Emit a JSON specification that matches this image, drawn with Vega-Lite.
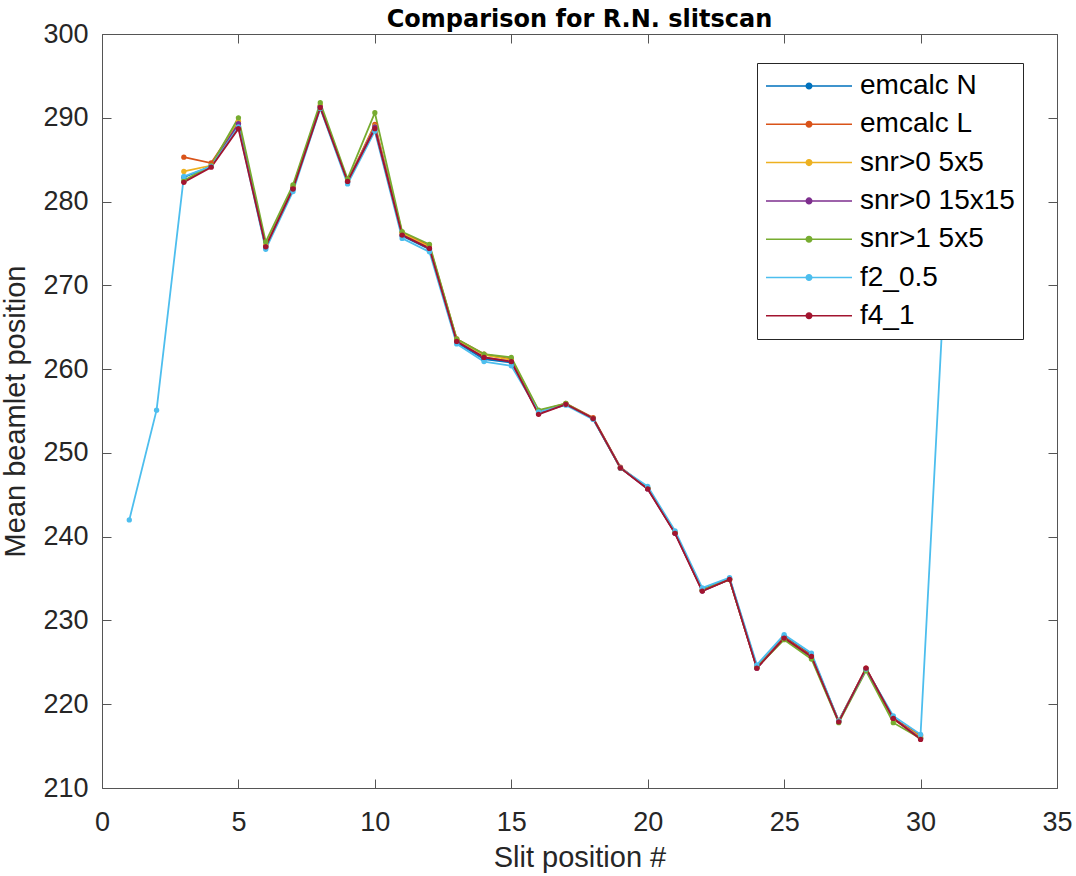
{
  "$schema": "https://vega.github.io/schema/vega-lite/v6.json",
  "width": 955,
  "height": 754,
  "autosize": "none",
  "padding": {"left": 102, "top": 34, "right": 19, "bottom": 88},
  "background": "white",
  "config": {
    "view": {"stroke": null},
    "font": "Liberation Sans"
  },
  "title": {
    "text": "Comparison for R.N. slitscan",
    "fontSize": 24,
    "fontWeight": "bold",
    "font": "DejaVu Sans",
    "color": "#000000",
    "anchor": "middle",
    "baseline": "alphabetic",
    "offset": 1,
    "dy": 32
  },
  "data": {
    "values": [
      {"x": 3, "series": "emcalc N", "y": 282.9},
      {"x": 4, "series": "emcalc N", "y": 284.2},
      {"x": 5, "series": "emcalc N", "y": 289.3},
      {"x": 6, "series": "emcalc N", "y": 274.5},
      {"x": 7, "series": "emcalc N", "y": 281.5},
      {"x": 8, "series": "emcalc N", "y": 291.3},
      {"x": 9, "series": "emcalc N", "y": 282.3},
      {"x": 10, "series": "emcalc N", "y": 288.6},
      {"x": 11, "series": "emcalc N", "y": 275.9},
      {"x": 12, "series": "emcalc N", "y": 274.3},
      {"x": 13, "series": "emcalc N", "y": 263.2},
      {"x": 14, "series": "emcalc N", "y": 261.2},
      {"x": 15, "series": "emcalc N", "y": 260.8},
      {"x": 16, "series": "emcalc N", "y": 254.8},
      {"x": 17, "series": "emcalc N", "y": 255.8},
      {"x": 18, "series": "emcalc N", "y": 254.1},
      {"x": 19, "series": "emcalc N", "y": 248.2},
      {"x": 20, "series": "emcalc N", "y": 245.8},
      {"x": 21, "series": "emcalc N", "y": 240.5},
      {"x": 22, "series": "emcalc N", "y": 233.7},
      {"x": 23, "series": "emcalc N", "y": 235.0},
      {"x": 24, "series": "emcalc N", "y": 224.5},
      {"x": 25, "series": "emcalc N", "y": 228.1},
      {"x": 26, "series": "emcalc N", "y": 225.9},
      {"x": 27, "series": "emcalc N", "y": 218.0},
      {"x": 28, "series": "emcalc N", "y": 224.2},
      {"x": 29, "series": "emcalc N", "y": 218.4},
      {"x": 30, "series": "emcalc N", "y": 216.0},

      {"x": 3, "series": "emcalc L", "y": 285.3},
      {"x": 4, "series": "emcalc L", "y": 284.6},
      {"x": 5, "series": "emcalc L", "y": 289.5},
      {"x": 6, "series": "emcalc L", "y": 274.7},
      {"x": 7, "series": "emcalc L", "y": 281.7},
      {"x": 8, "series": "emcalc L", "y": 291.4},
      {"x": 9, "series": "emcalc L", "y": 282.4},
      {"x": 10, "series": "emcalc L", "y": 289.2},
      {"x": 11, "series": "emcalc L", "y": 276.3},
      {"x": 12, "series": "emcalc L", "y": 274.7},
      {"x": 13, "series": "emcalc L", "y": 263.6},
      {"x": 14, "series": "emcalc L", "y": 261.8},
      {"x": 15, "series": "emcalc L", "y": 261.2},
      {"x": 16, "series": "emcalc L", "y": 255.0},
      {"x": 17, "series": "emcalc L", "y": 255.9},
      {"x": 18, "series": "emcalc L", "y": 254.2},
      {"x": 19, "series": "emcalc L", "y": 248.3},
      {"x": 20, "series": "emcalc L", "y": 245.8},
      {"x": 21, "series": "emcalc L", "y": 240.5},
      {"x": 22, "series": "emcalc L", "y": 233.6},
      {"x": 23, "series": "emcalc L", "y": 234.9},
      {"x": 24, "series": "emcalc L", "y": 224.4},
      {"x": 25, "series": "emcalc L", "y": 228.0},
      {"x": 26, "series": "emcalc L", "y": 225.8},
      {"x": 27, "series": "emcalc L", "y": 218.0},
      {"x": 28, "series": "emcalc L", "y": 224.3},
      {"x": 29, "series": "emcalc L", "y": 218.3},
      {"x": 30, "series": "emcalc L", "y": 216.3},

      {"x": 3, "series": "snr>0 5x5", "y": 283.6},
      {"x": 4, "series": "snr>0 5x5", "y": 284.3},
      {"x": 5, "series": "snr>0 5x5", "y": 289.6},
      {"x": 6, "series": "snr>0 5x5", "y": 274.8},
      {"x": 7, "series": "snr>0 5x5", "y": 281.8},
      {"x": 8, "series": "snr>0 5x5", "y": 291.5},
      {"x": 9, "series": "snr>0 5x5", "y": 282.5},
      {"x": 10, "series": "snr>0 5x5", "y": 289.0},
      {"x": 11, "series": "snr>0 5x5", "y": 276.2},
      {"x": 12, "series": "snr>0 5x5", "y": 274.6},
      {"x": 13, "series": "snr>0 5x5", "y": 263.5},
      {"x": 14, "series": "snr>0 5x5", "y": 261.7},
      {"x": 15, "series": "snr>0 5x5", "y": 261.1},
      {"x": 16, "series": "snr>0 5x5", "y": 254.9},
      {"x": 17, "series": "snr>0 5x5", "y": 255.8},
      {"x": 18, "series": "snr>0 5x5", "y": 254.1},
      {"x": 19, "series": "snr>0 5x5", "y": 248.2},
      {"x": 20, "series": "snr>0 5x5", "y": 245.8},
      {"x": 21, "series": "snr>0 5x5", "y": 240.5},
      {"x": 22, "series": "snr>0 5x5", "y": 233.6},
      {"x": 23, "series": "snr>0 5x5", "y": 234.9},
      {"x": 24, "series": "snr>0 5x5", "y": 224.4},
      {"x": 25, "series": "snr>0 5x5", "y": 227.9},
      {"x": 26, "series": "snr>0 5x5", "y": 225.7},
      {"x": 27, "series": "snr>0 5x5", "y": 218.0},
      {"x": 28, "series": "snr>0 5x5", "y": 224.2},
      {"x": 29, "series": "snr>0 5x5", "y": 218.2},
      {"x": 30, "series": "snr>0 5x5", "y": 216.1},

      {"x": 3, "series": "snr>0 15x15", "y": 282.4},
      {"x": 4, "series": "snr>0 15x15", "y": 284.2},
      {"x": 5, "series": "snr>0 15x15", "y": 289.3},
      {"x": 6, "series": "snr>0 15x15", "y": 274.6},
      {"x": 7, "series": "snr>0 15x15", "y": 281.6},
      {"x": 8, "series": "snr>0 15x15", "y": 291.3},
      {"x": 9, "series": "snr>0 15x15", "y": 282.4},
      {"x": 10, "series": "snr>0 15x15", "y": 288.9},
      {"x": 11, "series": "snr>0 15x15", "y": 276.0},
      {"x": 12, "series": "snr>0 15x15", "y": 274.4},
      {"x": 13, "series": "snr>0 15x15", "y": 263.3},
      {"x": 14, "series": "snr>0 15x15", "y": 261.4},
      {"x": 15, "series": "snr>0 15x15", "y": 260.9},
      {"x": 16, "series": "snr>0 15x15", "y": 254.7},
      {"x": 17, "series": "snr>0 15x15", "y": 255.8},
      {"x": 18, "series": "snr>0 15x15", "y": 254.1},
      {"x": 19, "series": "snr>0 15x15", "y": 248.2},
      {"x": 20, "series": "snr>0 15x15", "y": 245.7},
      {"x": 21, "series": "snr>0 15x15", "y": 240.4},
      {"x": 22, "series": "snr>0 15x15", "y": 233.5},
      {"x": 23, "series": "snr>0 15x15", "y": 234.9},
      {"x": 24, "series": "snr>0 15x15", "y": 224.3},
      {"x": 25, "series": "snr>0 15x15", "y": 227.9},
      {"x": 26, "series": "snr>0 15x15", "y": 225.6},
      {"x": 27, "series": "snr>0 15x15", "y": 217.9},
      {"x": 28, "series": "snr>0 15x15", "y": 224.2},
      {"x": 29, "series": "snr>0 15x15", "y": 218.3},
      {"x": 30, "series": "snr>0 15x15", "y": 215.9},

      {"x": 3, "series": "snr>1 5x5", "y": 282.5},
      {"x": 4, "series": "snr>1 5x5", "y": 284.3},
      {"x": 5, "series": "snr>1 5x5", "y": 290.0},
      {"x": 6, "series": "snr>1 5x5", "y": 275.2},
      {"x": 7, "series": "snr>1 5x5", "y": 282.0},
      {"x": 8, "series": "snr>1 5x5", "y": 291.8},
      {"x": 9, "series": "snr>1 5x5", "y": 282.7},
      {"x": 10, "series": "snr>1 5x5", "y": 290.6},
      {"x": 11, "series": "snr>1 5x5", "y": 276.4},
      {"x": 12, "series": "snr>1 5x5", "y": 274.9},
      {"x": 13, "series": "snr>1 5x5", "y": 263.6},
      {"x": 14, "series": "snr>1 5x5", "y": 261.8},
      {"x": 15, "series": "snr>1 5x5", "y": 261.4},
      {"x": 16, "series": "snr>1 5x5", "y": 255.1},
      {"x": 17, "series": "snr>1 5x5", "y": 255.9},
      {"x": 18, "series": "snr>1 5x5", "y": 254.1},
      {"x": 19, "series": "snr>1 5x5", "y": 248.2},
      {"x": 20, "series": "snr>1 5x5", "y": 245.8},
      {"x": 21, "series": "snr>1 5x5", "y": 240.5},
      {"x": 22, "series": "snr>1 5x5", "y": 233.6},
      {"x": 23, "series": "snr>1 5x5", "y": 234.9},
      {"x": 24, "series": "snr>1 5x5", "y": 224.4},
      {"x": 25, "series": "snr>1 5x5", "y": 227.7},
      {"x": 26, "series": "snr>1 5x5", "y": 225.4},
      {"x": 27, "series": "snr>1 5x5", "y": 217.8},
      {"x": 28, "series": "snr>1 5x5", "y": 224.0},
      {"x": 29, "series": "snr>1 5x5", "y": 217.8},
      {"x": 30, "series": "snr>1 5x5", "y": 215.9},

      {"x": 1, "series": "f2_0.5", "y": 242.0},
      {"x": 2, "series": "f2_0.5", "y": 255.1},
      {"x": 3, "series": "f2_0.5", "y": 283.0},
      {"x": 4, "series": "f2_0.5", "y": 284.2},
      {"x": 5, "series": "f2_0.5", "y": 288.9},
      {"x": 6, "series": "f2_0.5", "y": 274.3},
      {"x": 7, "series": "f2_0.5", "y": 281.2},
      {"x": 8, "series": "f2_0.5", "y": 291.1},
      {"x": 9, "series": "f2_0.5", "y": 282.1},
      {"x": 10, "series": "f2_0.5", "y": 288.4},
      {"x": 11, "series": "f2_0.5", "y": 275.6},
      {"x": 12, "series": "f2_0.5", "y": 274.0},
      {"x": 13, "series": "f2_0.5", "y": 263.0},
      {"x": 14, "series": "f2_0.5", "y": 260.9},
      {"x": 15, "series": "f2_0.5", "y": 260.4},
      {"x": 16, "series": "f2_0.5", "y": 254.9},
      {"x": 17, "series": "f2_0.5", "y": 255.7},
      {"x": 18, "series": "f2_0.5", "y": 254.0},
      {"x": 19, "series": "f2_0.5", "y": 248.2},
      {"x": 20, "series": "f2_0.5", "y": 246.0},
      {"x": 21, "series": "f2_0.5", "y": 240.7},
      {"x": 22, "series": "f2_0.5", "y": 233.9},
      {"x": 23, "series": "f2_0.5", "y": 235.1},
      {"x": 24, "series": "f2_0.5", "y": 224.7},
      {"x": 25, "series": "f2_0.5", "y": 228.3},
      {"x": 26, "series": "f2_0.5", "y": 226.1},
      {"x": 27, "series": "f2_0.5", "y": 218.0},
      {"x": 28, "series": "f2_0.5", "y": 224.2},
      {"x": 29, "series": "f2_0.5", "y": 218.6},
      {"x": 30, "series": "f2_0.5", "y": 216.4},
      {"x": 31, "series": "f2_0.5", "y": 278.0},

      {"x": 3, "series": "f4_1", "y": 282.3},
      {"x": 4, "series": "f4_1", "y": 284.1},
      {"x": 5, "series": "f4_1", "y": 288.7},
      {"x": 6, "series": "f4_1", "y": 274.6},
      {"x": 7, "series": "f4_1", "y": 281.5},
      {"x": 8, "series": "f4_1", "y": 291.2},
      {"x": 9, "series": "f4_1", "y": 282.4},
      {"x": 10, "series": "f4_1", "y": 288.7},
      {"x": 11, "series": "f4_1", "y": 276.0},
      {"x": 12, "series": "f4_1", "y": 274.4},
      {"x": 13, "series": "f4_1", "y": 263.3},
      {"x": 14, "series": "f4_1", "y": 261.4},
      {"x": 15, "series": "f4_1", "y": 260.9},
      {"x": 16, "series": "f4_1", "y": 254.6},
      {"x": 17, "series": "f4_1", "y": 255.8},
      {"x": 18, "series": "f4_1", "y": 254.1},
      {"x": 19, "series": "f4_1", "y": 248.2},
      {"x": 20, "series": "f4_1", "y": 245.7},
      {"x": 21, "series": "f4_1", "y": 240.4},
      {"x": 22, "series": "f4_1", "y": 233.5},
      {"x": 23, "series": "f4_1", "y": 234.9},
      {"x": 24, "series": "f4_1", "y": 224.3},
      {"x": 25, "series": "f4_1", "y": 227.9},
      {"x": 26, "series": "f4_1", "y": 225.7},
      {"x": 27, "series": "f4_1", "y": 217.9},
      {"x": 28, "series": "f4_1", "y": 224.3},
      {"x": 29, "series": "f4_1", "y": 218.3},
      {"x": 30, "series": "f4_1", "y": 215.8}
    ]
  },
  "layer": [
    {
      "mark": {"type": "point", "opacity": 0},
      "encoding": {
        "x": {
          "field": "x", "type": "quantitative",
          "scale": {"domain": [0, 35], "nice": false, "zero": false},
          "axis": {
            "orient": "top", "values": [0, 5, 10, 15, 20, 25, 30, 35],
            "labels": false, "title": null, "grid": false,
            "tickSize": -9, "tickColor": "#555555", "domainColor": "#555555",
            "tickWidth": 1, "domainWidth": 1
          }
        },
        "y": {
          "field": "y", "type": "quantitative",
          "scale": {"domain": [210, 300], "nice": false, "zero": false},
          "axis": {
            "orient": "right", "values": [210, 220, 230, 240, 250, 260, 270, 280, 290, 300],
            "labels": false, "title": null, "grid": false,
            "tickSize": -9, "tickColor": "#555555", "domainColor": "#555555",
            "tickWidth": 1, "domainWidth": 1
          }
        }
      }
    },
    {
      "mark": {"type": "line", "strokeWidth": 1.8, "clip": true, "point": {"filled": true, "size": 28, "opacity": 1}},
      "encoding": {
        "x": {
          "field": "x", "type": "quantitative",
          "axis": {
            "orient": "bottom", "values": [0, 5, 10, 15, 20, 25, 30, 35],
            "grid": false, "tickSize": -9, "tickColor": "#555555", "domainColor": "#555555",
            "tickWidth": 1, "domainWidth": 1,
            "labelFontSize": 27, "labelFont": "Liberation Sans", "labelColor": "#262626",
            "labelBaseline": "alphabetic", "labelPadding": 51.5, "labelFlush": false,
            "title": "Slit position #", "titleFontSize": 29, "titleFont": "Liberation Sans",
            "titleFontWeight": "normal", "titleColor": "#262626",
            "titleBaseline": "alphabetic", "titleY": 78
          }
        },
        "y": {
          "field": "y", "type": "quantitative",
          "axis": {
            "orient": "left", "values": [210, 220, 230, 240, 250, 260, 270, 280, 290, 300],
            "grid": false, "tickSize": -9, "tickColor": "#555555", "domainColor": "#555555",
            "tickWidth": 1, "domainWidth": 1,
            "labelFontSize": 27, "labelFont": "Liberation Sans", "labelColor": "#262626",
            "labelPadding": 23, "labelFlush": false,
            "title": "Mean beamlet position", "titleFontSize": 29, "titleFont": "Liberation Sans",
            "titleFontWeight": "normal", "titleColor": "#262626",
            "titleBaseline": "alphabetic", "titleX": -78
          }
        },
        "color": {
          "field": "series", "type": "nominal",
          "scale": {
            "domain": ["emcalc N", "emcalc L", "snr>0 5x5", "snr>0 15x15", "snr>1 5x5", "f2_0.5", "f4_1"],
            "range": ["#0072BD", "#D95319", "#EDB120", "#7E2F8E", "#77AC30", "#4DBEEE", "#A2142F"]
          },
          "sort": null,
          "legend": {
            "title": null,
            "orient": "none",
            "legendX": 655,
            "legendY": 29,
            "fillColor": "white",
            "strokeColor": "#262626",
            "padding": 8,
            "symbolType": "M-1,0H1M-0.065,0A0.065,0.065,0,1,0,0.065,0A0.065,0.065,0,1,0,-0.065,0Z",
            "symbolSize": 7396,
            "symbolStrokeWidth": 1.5,
            "clipHeight": 30,
            "rowPadding": 8.3,
            "labelOffset": 7,
            "labelFontSize": 28,
            "labelFont": "Liberation Sans",
            "labelColor": "#000000",
            "labelLimit": 400,
            "encode": {
              "symbols": {
                "update": {
                  "fill": {"scale": "color", "field": "value"},
                  "stroke": {"scale": "color", "field": "value"},
                  "opacity": {"value": 1}
                }
              }
            }
          }
        }
      }
    }
  ],
  "resolve": {"axis": {"x": "independent", "y": "independent"}}
}
